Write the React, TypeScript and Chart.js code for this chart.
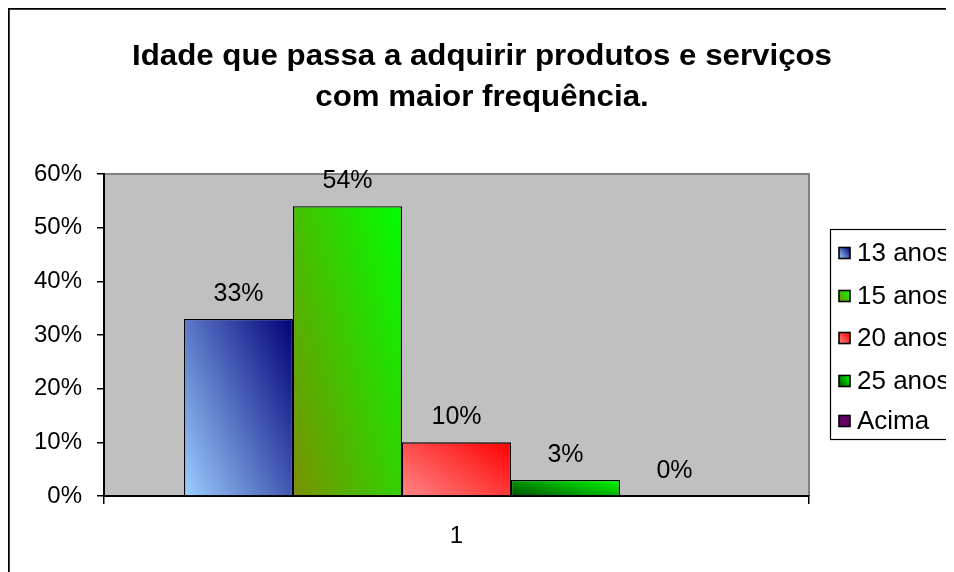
import React, { useEffect, useRef } from 'react';
import { Chart, registerables } from 'chart.js';

Chart.register(...registerables);

// ---- data ----
const categories = ['1'];
const seriesNames = ['13 anos', '15 anos', '20 anos', '25 anos', 'Acima'];
const seriesValues = [33, 54, 10, 3, 0];
const yTickValues = [0, 10, 20, 30, 40, 50, 60];
const titleLines = ['Idade que passa a adquirir produtos e serviços', 'com maior frequência.'];

// ---- styles ----
const FONT = '"Liberation Sans", Arial, Helvetica, sans-serif';
const barColors: string[][] = [
  ['#9CCFFF', '#000078'],
  ['#7A9000', '#00FF00'],
  ['#FF8686', '#FF0000'],
  ['#005000', '#00FF00'],
  ['#660066', '#660066'],
];
const CATEGORY_PCT = 0.773;
const GRAD_WX = 0.58; // horizontal weight of the diagonal gradient
const GRAD_WY = 0.42; // vertical weight

function makeGradient(ctx: CanvasRenderingContext2D, left: number, base: number, w: number, h: number, stops: string[]) {
  const kx = GRAD_WX / Math.max(w, 1);
  const ky = GRAD_WY / Math.max(h, 1);
  const n = kx * kx + ky * ky;
  const dx = kx / n;
  const dy = ky / n;
  const g = ctx.createLinearGradient(left, base, left + dx, base - dy);
  g.addColorStop(0, stops[0]);
  g.addColorStop(1, stops[1]);
  return g;
}

function barGradient(c: any) {
  const chart = c.chart;
  const stops = barColors[c.datasetIndex] || ['#888', '#888'];
  const xs = chart.scales && chart.scales.x;
  const ys = chart.scales && chart.scales.y;
  if (!xs || !ys || c.type !== 'data' || !chart.chartArea) return stops[0];
  const n = chart.data.datasets.length;
  const catW = (xs.right - xs.left) / categories.length;
  const groupW = catW * CATEGORY_PCT;
  const bw = groupW / n;
  const cx = xs.getPixelForValue(c.dataIndex);
  const left = cx - groupW / 2 + c.datasetIndex * bw;
  const base = ys.getPixelForValue(0);
  const top = Math.min(ys.getPixelForValue(c.raw as number), base - 1);
  if (!isFinite(left) || !isFinite(top)) return stops[0];
  return makeGradient(chart.ctx, left, base, bw, base - top, stops);
}

const customPlugin = {
  id: 'customDecor',
  beforeDraw(chart: any) {
    const { ctx, chartArea: a } = chart;
    ctx.save();
    ctx.fillStyle = '#ffffff';
    ctx.fillRect(0, 0, chart.width, chart.height);
    // plot area
    ctx.fillStyle = '#C0C0C0';
    ctx.fillRect(a.left, a.top, a.right - a.left, a.bottom - a.top);
    ctx.strokeStyle = '#808080';
    ctx.lineWidth = 2;
    ctx.beginPath();
    ctx.moveTo(a.left, a.top);
    ctx.lineTo(a.right, a.top);
    ctx.lineTo(a.right, a.bottom);
    ctx.stroke();
    // outer chart border
    ctx.strokeStyle = '#000000';
    ctx.lineWidth = 2.5;
    ctx.strokeRect(0.5, 0.5, chart.width + 20, chart.height + 20);
    // title
    ctx.fillStyle = '#000000';
    ctx.font = `bold 30px ${FONT}`;
    ctx.textAlign = 'center';
    ctx.textBaseline = 'middle';
    const w0 = ctx.measureText(titleLines[0]).width || 1;
    const sx = 700 / w0;
    ctx.translate(474, 0);
    ctx.scale(sx, 1);
    ctx.fillText(titleLines[0], 0, 49);
    ctx.fillText(titleLines[1], 0, 90);
    ctx.restore();
  },
  afterDatasetsDraw(chart: any) {
    const { ctx } = chart;
    ctx.save();
    ctx.fillStyle = '#000000';
    ctx.font = `25px ${FONT}`;
    ctx.textAlign = 'center';
    ctx.textBaseline = 'middle';
    chart.data.datasets.forEach((ds: any, i: number) => {
      const meta = chart.getDatasetMeta(i);
      meta.data.forEach((el: any, j: number) => {
        const v = ds.data[j];
        ctx.fillText(`${v}%`, el.x, el.y - 25);
      });
    });
    ctx.restore();
  },
  afterDraw(chart: any) {
    const { ctx } = chart;
    ctx.save();
    // legend box (extends beyond the right edge)
    const boxLeft = 822;
    const boxTop = 221;
    const boxBottom = 431;
    ctx.strokeStyle = '#000000';
    ctx.lineWidth = 1.2;
    ctx.strokeRect(boxLeft + 0.5, boxTop + 0.5, 300, boxBottom - boxTop);
    const rows = [245, 288, 330, 373, 413];
    ctx.font = `26px ${FONT}`;
    ctx.textAlign = 'left';
    ctx.textBaseline = 'middle';
    seriesNames.forEach((name, i) => {
      const cy = rows[i];
      const sx = 831;
      const sz = 11;
      ctx.fillStyle = makeGradient(ctx, sx, cy + sz / 2, sz, sz, barColors[i]);
      ctx.fillRect(sx, cy - sz / 2, sz, sz);
      ctx.strokeStyle = '#000000';
      ctx.lineWidth = 1.6;
      ctx.strokeRect(sx, cy - sz / 2, sz, sz);
      ctx.fillStyle = '#000000';
      ctx.fillText(name, 849, cy + 1);
    });
    ctx.restore();
  },
};

export default function App() {
  const canvasRef = useRef<HTMLCanvasElement | null>(null);

  useEffect(() => {
    const canvas = canvasRef.current;
    if (!canvas) return;
    const chart = new Chart(canvas, {
      type: 'bar',
      data: {
        labels: categories,
        datasets: seriesNames.map((name, i) => ({
          label: name,
          data: [seriesValues[i]],
          backgroundColor: barGradient,
          borderColor: '#000000',
          borderWidth: 1.3,
          categoryPercentage: CATEGORY_PCT,
          barPercentage: 1.0,
        })),
      },
      options: {
        responsive: false,
        maintainAspectRatio: false,
        animation: false,
        events: [],
        layout: { padding: { left: 0, top: 166, right: 145, bottom: 16 } },
        plugins: {
          legend: { display: false },
          title: { display: false },
          tooltip: { enabled: false },
        },
        scales: {
          x: {
            type: 'category',
            offset: true,
            z: 1,
            grid: {
              offset: true,
              drawOnChartArea: false,
              drawTicks: true,
              tickLength: 8,
              color: '#000000',
              lineWidth: 1.5,
            },
            border: { display: true, color: '#000000', width: 2 },
            ticks: {
              color: '#000000',
              font: { family: FONT, size: 24 },
              padding: 18,
            },
            afterFit: (scale: any) => {
              scale.height = 60;
            },
          },
          y: {
            type: 'linear',
            min: 0,
            max: 60,
            z: 1,
            afterBuildTicks: (scale: any) => {
              scale.ticks = yTickValues.map((v) => ({ value: v }));
            },
            grid: {
              drawOnChartArea: false,
              drawTicks: true,
              tickLength: 7,
              color: '#000000',
              lineWidth: 1.5,
            },
            border: { display: true, color: '#000000', width: 2 },
            ticks: {
              color: '#000000',
              font: { family: FONT, size: 24 },
              padding: 15,
              callback: (v: any) => `${v}%`,
            },
            afterFit: (scale: any) => {
              scale.width = 96;
            },
          },
        },
      },
      plugins: [customPlugin],
    });
    return () => chart.destroy();
  }, []);

  return (
    <canvas
      ref={canvasRef}
      width={946}
      height={564}
      style={{ display: 'block', width: 946, height: 564 }}
    />
  );
}
